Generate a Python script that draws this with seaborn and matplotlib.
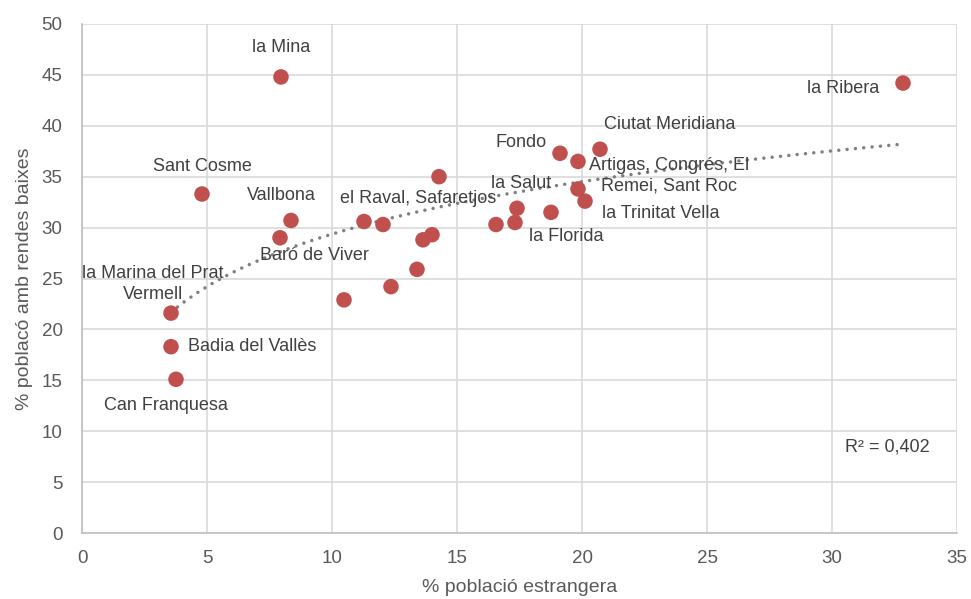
import matplotlib
matplotlib.use("Agg")
import matplotlib.pyplot as plt
import numpy as np
import pandas as pd
import seaborn as sns

# % foreign population vs % population with low income, per neighbourhood
pct_foreign = [7.96, 32.84, 4.80, 8.36, 7.92, 3.56, 3.56, 3.76, 10.48, 11.28,
               12.04, 12.36, 13.40, 13.64, 14.00, 14.28, 16.56, 17.32, 17.40,
               18.76, 19.12, 19.84, 19.84, 20.12, 20.72]
pct_low_income = [44.8, 44.2, 33.3, 30.7, 29.0, 21.6, 18.3, 15.1, 22.9, 30.6,
                  30.3, 24.2, 25.9, 28.8, 29.3, 35.0, 30.3, 30.5, 31.9,
                  31.5, 37.3, 36.5, 33.8, 32.6, 37.7]
point_labels = ["la Mina", "la Ribera", "Sant Cosme", "Vallbona", "Baró de Viver",
                "la Marina del Prat\nVermell", "Badia del Vallès", "Can Franquesa",
                "", "", "", "", "", "", "",
                "el Raval, Safaretjos", "", "la Florida", "la Salut", "",
                "Fondo", "Artigas, Congrés, El\nRemei, Sant Roc", "",
                "la Trinitat Vella", "Ciutat Meridiana"]
r2_text = "R² = 0,402"

# label offsets in pixels (dx, dy) and horizontal alignment
label_offsets = {
    "la Mina": (0, 29, "center"),
    "la Ribera": (-60, -5, "center"),
    "Sant Cosme": (0, 28, "center"),
    "Vallbona": (-10, 25, "center"),
    "Baró de Viver": (34, -18, "center"),
    "la Marina del Prat\nVermell": (-18, 29, "center"),
    "Badia del Vallès": (17, 0, "left"),
    "Can Franquesa": (-10, -26, "center"),
    "el Raval, Safaretjos": (-21, -22, "center"),
    "la Florida": (51, -14, "center"),
    "la Salut": (4, 25, "center"),
    "Fondo": (-39, 11, "center"),
    "Artigas, Congrés, El\nRemei, Sant Roc": (91, -14, "center"),
    "la Trinitat Vella": (76, -12, "center"),
    "Ciutat Meridiana": (70, 25, "center"),
}

df = pd.DataFrame({"x": pct_foreign, "y": pct_low_income, "label": point_labels})

sns.set_theme(style="whitegrid")
plt.rcParams["font.family"] = ["Liberation Sans", "DejaVu Sans"]

fig = plt.figure(figsize=(9.71, 5.99), dpi=100)
ax = fig.add_axes([82 / 971, 66 / 599, 875 / 971, 509 / 599])

sns.scatterplot(data=df, x="x", y="y", ax=ax, color="#c0504d", s=125,
                edgecolor="none", zorder=3)

# logarithmic trendline
coef = np.polyfit(np.log(df["x"]), df["y"], 1)
xs = np.linspace(df["x"].min(), df["x"].max(), 200)
ax.plot(xs, coef[0] * np.log(xs) + coef[1], linestyle=(0, (0.01, 2.4)),
        color="#7f7f7f", linewidth=2.5, dash_capstyle="round", zorder=2)

for _, row in df.iterrows():
    if row["label"]:
        dx, dy, ha = label_offsets[row["label"]]
        ax.annotate(row["label"], (row["x"], row["y"]), xytext=(dx, dy),
                    textcoords="offset pixels", ha=ha, va="center",
                    fontsize=13, color="#404040", zorder=4, linespacing=1.25)

ax.text(0.92, 0.168, r2_text, transform=ax.transAxes, ha="center", va="center",
        fontsize=13, color="#404040")

ax.set_xlim(0, 35)
ax.set_ylim(0, 50)
ax.set_xticks(range(0, 36, 5))
ax.set_yticks(range(0, 51, 5))
ax.grid(True, color="#d9d9d9", linewidth=1.2)
for side in ["top", "right"]:
    ax.spines[side].set_visible(False)
for side in ["left", "bottom"]:
    ax.spines[side].set_color("#bfbfbf")
    ax.spines[side].set_linewidth(1.2)
ax.tick_params(axis="x", labelsize=13.5, colors="#595959", length=0, pad=12)
ax.tick_params(axis="y", labelsize=13.5, colors="#595959", length=0, pad=14)
ax.set_xlabel("% població estrangera", fontsize=14, color="#595959", labelpad=9)
ax.set_ylabel("% poblacó amb rendes baixes", fontsize=14, color="#595959", labelpad=6)

fig.savefig("out.png", dpi=100)
